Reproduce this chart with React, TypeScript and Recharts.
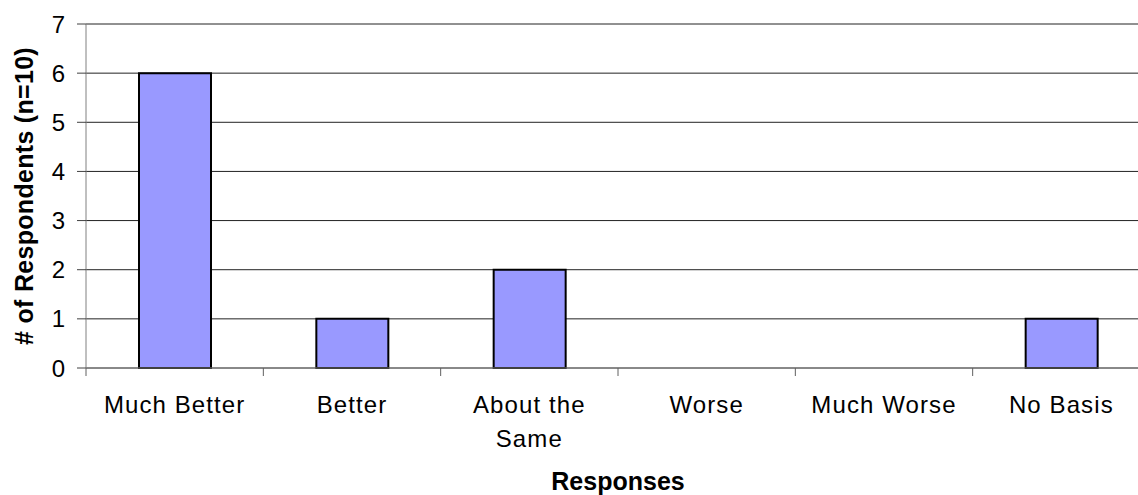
import React from "react";
import { BarChart, Bar, XAxis, YAxis, CartesianGrid } from "recharts";

// Survey responses and how many respondents picked each one
const categories = ["Much Better", "Better", "About the Same", "Worse", "Much Worse", "No Basis"];
const respondents = [6, 1, 2, 0, 0, 1];
// Category labels as drawn under the axis, one entry per line
const tickLabelLines = [
  ["Much Better"],
  ["Better"],
  ["About the", "Same"],
  ["Worse"],
  ["Much Worse"],
  ["No Basis"],
];
const yTicks = [0, 1, 2, 3, 4, 5, 6, 7];

const data = categories.map((category, i) => ({ category, respondents: respondents[i] }));

const FONT = "'Liberation Sans', Arial, Helvetica, sans-serif";
const CHART_W = 1150;
const CHART_H = 495;
const MARGIN = { top: 24, right: 0, bottom: 0, left: 0 };
const Y_AXIS_W = 86;
const X_AXIS_H = 127;
const BAND = (CHART_W - MARGIN.left - MARGIN.right - Y_AXIS_W) / categories.length;

const XTick = (props: any) => {
  const { x, y, payload } = props;
  const idx = categories.indexOf(payload.value);
  const lines = idx >= 0 ? tickLabelLines[idx] : [String(payload.value)];
  const isLast = idx === categories.length - 1;
  return (
    <g>
      <line x1={x - BAND / 2} x2={x - BAND / 2} y1={y} y2={y + 8} stroke="#606060" strokeWidth={1} />
      {isLast && (
        <line x1={x + BAND / 2} x2={x + BAND / 2} y1={y} y2={y + 8} stroke="#606060" strokeWidth={1} />
      )}
      <text
        x={x}
        y={y + 45}
        textAnchor="middle"
        fontSize={24}
        letterSpacing={1.1}
        fill="#000"
        fontFamily={FONT}
      >
        {lines.map((line, i) => (
          <tspan key={i} x={x} dy={i === 0 ? 0 : 34}>
            {line}
          </tspan>
        ))}
      </text>
    </g>
  );
};

const YTitle = (props: any) => {
  const vb = props.viewBox;
  const cx = vb.x + 24;
  const cy = vb.y + vb.height / 2;
  return (
    <text
      x={cx}
      y={cy}
      transform={`rotate(-90, ${cx}, ${cy})`}
      textAnchor="middle"
      dominantBaseline="central"
      fontSize={25}
      letterSpacing={0.3}
      fontWeight="bold"
      fill="#000"
      fontFamily={FONT}
    >
      # of Respondents (n=10)
    </text>
  );
};

const XTitle = (props: any) => {
  const vb = props.viewBox;
  return (
    <text
      x={vb.x + vb.width / 2}
      y={vb.y + 122}
      textAnchor="middle"
      fontSize={25}
      fontWeight="bold"
      fill="#000"
      fontFamily={FONT}
    >
      Responses
    </text>
  );
};

export default function App() {
  return (
    <div
      style={{
        position: "absolute",
        left: 0,
        top: 0,
        width: 1138,
        height: 495,
        overflow: "hidden",
        background: "#fff",
      }}
    >
      <BarChart width={CHART_W} height={CHART_H} data={data} margin={MARGIN}>
        <CartesianGrid vertical={false} stroke="#222" strokeWidth={1} />
        <XAxis
          dataKey="category"
          interval={0}
          height={X_AXIS_H}
          tickSize={0}
          tickMargin={0}
          tickLine={false}
          axisLine={{ stroke: "#808080", strokeWidth: 1 }}
          tick={<XTick />}
          label={<XTitle />}
        />
        <YAxis
          width={Y_AXIS_W}
          domain={[0, 7]}
          ticks={yTicks}
          interval={0}
          tickSize={9}
          tickMargin={12}
          axisLine={{ stroke: "#808080", strokeWidth: 1 }}
          tickLine={{ stroke: "#404040", strokeWidth: 1 }}
          tick={{ fontSize: 24, fill: "#000", fontFamily: FONT }}
          label={<YTitle />}
        />
        <Bar
          dataKey="respondents"
          fill="#9999FF"
          stroke="#000"
          strokeWidth={2}
          barSize={72}
          isAnimationActive={false}
        />
      </BarChart>
    </div>
  );
}
